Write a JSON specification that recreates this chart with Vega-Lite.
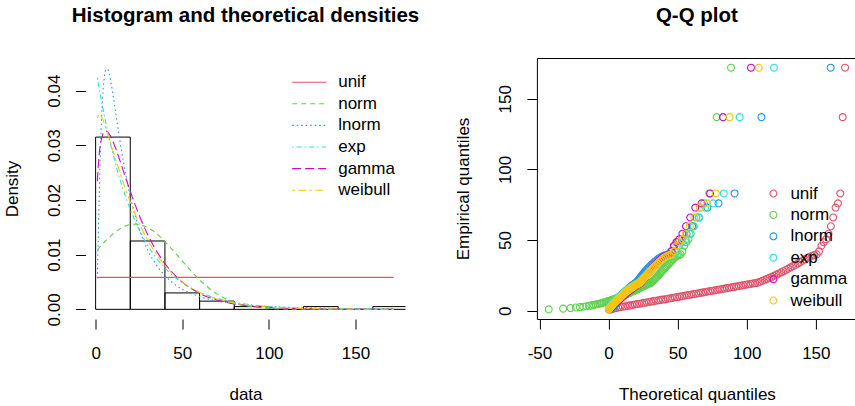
{
"$schema":"https://vega.github.io/schema/vega-lite/v6.json",
"background":"white",
"padding":{"left":2.5,"top":5,"right":0,"bottom":0},
"bounds":"flush",
"spacing":131.4,
"resolve":{"scale":{"x":"independent","y":"independent","color":"independent","strokeDash":"independent"},"legend":{"color":"independent","strokeDash":"independent"}},
"config":{
 "font":"Liberation Sans",
 "axis":{"labelFont":"Liberation Sans","titleFont":"Liberation Sans","labelColor":"black","titleColor":"black","tickColor":"black","tickWidth":1,"tickSize":10,"labelFontSize":17,"titleFontSize":17,"titleFontWeight":"normal","grid":false,"domain":false,"labelFlush":false,"labelOverlap":false},
 "axisX":{"labelPadding":16,"titlePadding":25},
 "axisY":{"labelAngle":-90,"labelAlign":"center","labelBaseline":"alphabetic","labelPadding":16,"titlePadding":24},
 "title":{"font":"Liberation Sans","fontSize":20.5,"fontWeight":"bold","color":"black","anchor":"middle","frame":"group","baseline":"alphabetic","offset":31.8}
},
"hconcat":[
{
 "width":320,"height":261,
 "view":{"stroke":null},
 "title":{"text":"Histogram and theoretical densities"},
 "layer":[
  {
   "data":{"values":[
    {"lo":0,"hi":20,"den":0.0315},{"lo":20,"hi":40,"den":0.0125},{"lo":40,"hi":60,"den":0.003},{"lo":60,"hi":80,"den":0.0015},{"lo":80,"hi":100,"den":0.0005},{"lo":100,"hi":120,"den":0},{"lo":120,"hi":140,"den":0.0005},{"lo":140,"hi":160,"den":0},{"lo":160,"hi":180,"den":0.0005}]},
   "mark":{"type":"bar","fillOpacity":0,"stroke":"black","strokeWidth":1,"clip":true},
   "encoding":{
    "x":{"field":"lo","type":"quantitative","scale":{"domain":[-5.84,178.84],"nice":false,"zero":false},"axis":{"values":[0,50,100,150],"title":"data"}},
    "x2":{"field":"hi"},
    "y":{"field":"den","type":"quantitative","scale":{"domain":[-0.001768,0.045968],"nice":false,"zero":false},"axis":{"values":[0,0.01,0.02,0.03,0.04],"format":".2f","title":"Density"}},
    "y2":{"datum":0}
   }
  },
  {
   "mark":{"type":"rule","color":"black","strokeWidth":1},
   "encoding":{"x":{"datum":0,"type":"quantitative"},"x2":{"datum":150},"y":{"datum":-0.001768,"type":"quantitative"}}
  },
  {
   "mark":{"type":"rule","color":"black","strokeWidth":1},
   "encoding":{"x":{"datum":-5.84,"type":"quantitative"},"y":{"datum":0,"type":"quantitative"},"y2":{"datum":0.04}}
  },
  {
   "data":{"values":[
{"d":"unif","x":1,"y":0.005848},{"d":"unif","x":172,"y":0.005848},
{"d":"norm","x":1,"y":0.010881},{"d":"norm","x":2,"y":0.011238},{"d":"norm","x":3,"y":0.01159},{"d":"norm","x":4,"y":0.011935},{"d":"norm","x":5,"y":0.01227},{"d":"norm","x":6,"y":0.012597},{"d":"norm","x":7,"y":0.012912},{"d":"norm","x":8,"y":0.013215},{"d":"norm","x":10,"y":0.01378},{"d":"norm","x":12,"y":0.014281},{"d":"norm","x":14,"y":0.01471},{"d":"norm","x":16,"y":0.015059},{"d":"norm","x":18,"y":0.015324},{"d":"norm","x":20,"y":0.015498},{"d":"norm","x":23,"y":0.015583},{"d":"norm","x":26,"y":0.015455},{"d":"norm","x":30,"y":0.014963},{"d":"norm","x":35,"y":0.013885},{"d":"norm","x":40,"y":0.012403},{"d":"norm","x":45,"y":0.010664},{"d":"norm","x":50,"y":0.008825},{"d":"norm","x":60,"y":0.005391},{"d":"norm","x":70,"y":0.002827},{"d":"norm","x":80,"y":0.001273},{"d":"norm","x":90,"y":0.000492},{"d":"norm","x":100,"y":0.000163},{"d":"norm","x":120,"y":0.0000114},{"d":"norm","x":140,"y":0.0000004},{"d":"norm","x":172,"y":0},
{"d":"lnorm","x":1,"y":0.005662},{"d":"lnorm","x":2,"y":0.019611},{"d":"lnorm","x":3,"y":0.031172},{"d":"lnorm","x":4,"y":0.038505},{"d":"lnorm","x":5,"y":0.042404},{"d":"lnorm","x":6,"y":0.04392},{"d":"lnorm","x":7,"y":0.04388},{"d":"lnorm","x":8,"y":0.042858},{"d":"lnorm","x":10,"y":0.039313},{"d":"lnorm","x":12,"y":0.03507},{"d":"lnorm","x":14,"y":0.030882},{"d":"lnorm","x":16,"y":0.02704},{"d":"lnorm","x":18,"y":0.023632},{"d":"lnorm","x":20,"y":0.020661},{"d":"lnorm","x":23,"y":0.016941},{"d":"lnorm","x":26,"y":0.013966},{"d":"lnorm","x":30,"y":0.0109},{"d":"lnorm","x":35,"y":0.008123},{"d":"lnorm","x":40,"y":0.006155},{"d":"lnorm","x":45,"y":0.004735},{"d":"lnorm","x":50,"y":0.003694},{"d":"lnorm","x":60,"y":0.00233},{"d":"lnorm","x":70,"y":0.00153},{"d":"lnorm","x":80,"y":0.00104},{"d":"lnorm","x":90,"y":0.000726},{"d":"lnorm","x":100,"y":0.00052},{"d":"lnorm","x":120,"y":0.000282},{"d":"lnorm","x":140,"y":0.000163},{"d":"lnorm","x":172,"y":0.0000754},
{"d":"exp","x":1,"y":0.042333},{"d":"exp","x":2,"y":0.0405},{"d":"exp","x":3,"y":0.038747},{"d":"exp","x":4,"y":0.03707},{"d":"exp","x":5,"y":0.035466},{"d":"exp","x":6,"y":0.033931},{"d":"exp","x":7,"y":0.032462},{"d":"exp","x":8,"y":0.031057},{"d":"exp","x":10,"y":0.028427},{"d":"exp","x":12,"y":0.026019},{"d":"exp","x":14,"y":0.023815},{"d":"exp","x":16,"y":0.021798},{"d":"exp","x":18,"y":0.019952},{"d":"exp","x":20,"y":0.018262},{"d":"exp","x":23,"y":0.015993},{"d":"exp","x":26,"y":0.014005},{"d":"exp","x":30,"y":0.011732},{"d":"exp","x":35,"y":0.009405},{"d":"exp","x":40,"y":0.007538},{"d":"exp","x":45,"y":0.006042},{"d":"exp","x":50,"y":0.004842},{"d":"exp","x":60,"y":0.003111},{"d":"exp","x":70,"y":0.001999},{"d":"exp","x":80,"y":0.001284},{"d":"exp","x":90,"y":0.000825},{"d":"exp","x":100,"y":0.00053},{"d":"exp","x":120,"y":0.000219},{"d":"exp","x":140,"y":0.0000904},{"d":"exp","x":172,"y":0.0000219},
{"d":"gamma","x":1,"y":0.023444},{"d":"gamma","x":2,"y":0.028155},{"d":"gamma","x":3,"y":0.030572},{"d":"gamma","x":4,"y":0.031857},{"d":"gamma","x":5,"y":0.032455},{"d":"gamma","x":6,"y":0.032594},{"d":"gamma","x":7,"y":0.032413},{"d":"gamma","x":8,"y":0.032002},{"d":"gamma","x":10,"y":0.030718},{"d":"gamma","x":12,"y":0.029066},{"d":"gamma","x":14,"y":0.027234},{"d":"gamma","x":16,"y":0.025335},{"d":"gamma","x":18,"y":0.023437},{"d":"gamma","x":20,"y":0.021588},{"d":"gamma","x":23,"y":0.018965},{"d":"gamma","x":26,"y":0.016559},{"d":"gamma","x":30,"y":0.013719},{"d":"gamma","x":35,"y":0.010753},{"d":"gamma","x":40,"y":0.008367},{"d":"gamma","x":45,"y":0.006475},{"d":"gamma","x":50,"y":0.004989},{"d":"gamma","x":60,"y":0.002932},{"d":"gamma","x":70,"y":0.001706},{"d":"gamma","x":80,"y":0.000986},{"d":"gamma","x":90,"y":0.000567},{"d":"gamma","x":100,"y":0.000324},{"d":"gamma","x":120,"y":0.000105},{"d":"gamma","x":140,"y":0.0000337},{"d":"gamma","x":172,"y":0.0000054},
{"d":"weibull","x":1,"y":0.035006},{"d":"weibull","x":2,"y":0.035646},{"d":"weibull","x":3,"y":0.035413},{"d":"weibull","x":4,"y":0.034818},{"d":"weibull","x":5,"y":0.034027},{"d":"weibull","x":6,"y":0.033124},{"d":"weibull","x":7,"y":0.032157},{"d":"weibull","x":8,"y":0.031147},{"d":"weibull","x":10,"y":0.029087},{"d":"weibull","x":12,"y":0.027037},{"d":"weibull","x":14,"y":0.025044},{"d":"weibull","x":16,"y":0.023137},{"d":"weibull","x":18,"y":0.021327},{"d":"weibull","x":20,"y":0.019625},{"d":"weibull","x":23,"y":0.017273},{"d":"weibull","x":26,"y":0.01516},{"d":"weibull","x":30,"y":0.012695},{"d":"weibull","x":35,"y":0.01012},{"d":"weibull","x":40,"y":0.008032},{"d":"weibull","x":45,"y":0.006349},{"d":"weibull","x":50,"y":0.005004},{"d":"weibull","x":60,"y":0.003083},{"d":"weibull","x":70,"y":0.001883},{"d":"weibull","x":80,"y":0.001142},{"d":"weibull","x":90,"y":0.000687},{"d":"weibull","x":100,"y":0.000412},{"d":"weibull","x":120,"y":0.000146},{"d":"weibull","x":140,"y":0.0000506},{"d":"weibull","x":172,"y":0.0000091}
   ]},
   "mark":{"type":"line","strokeWidth":1.1,"interpolate":"monotone"},
   "encoding":{
    "x":{"field":"x","type":"quantitative"},
    "y":{"field":"y","type":"quantitative"},
    "color":{"field":"d","type":"nominal","scale":{"domain":["unif","norm","lnorm","exp","gamma","weibull"],"range":["#DF536B","#61D04F","#2297E6","#28E2E5","#CD0BBC","#F5C710"]},
     "legend":{"orient":"none","legendX":212.7,"legendY":13.2,"title":null,"symbolType":"M-1.7,0H1.7","symbolSize":400,"symbolStrokeWidth":1.1,"labelFontSize":17,"labelFont":"Liberation Sans","labelColor":"black","labelOffset":18,"rowPadding":2.6,"padding":0}},
    "strokeDash":{"field":"d","type":"nominal","scale":{"domain":["unif","norm","lnorm","exp","gamma","weibull"],"range":[[1,0],[5,4],[1.5,3],[1.5,3,5,3],[9,4],[3,3,8,3]]},
     "legend":{"orient":"none","legendX":212.7,"legendY":13.2,"title":null,"symbolType":"M-1.7,0H1.7","symbolSize":400,"symbolStrokeWidth":1.1,"labelFontSize":17,"labelFont":"Liberation Sans","labelColor":"black","labelOffset":18,"rowPadding":2.6,"padding":0}}
   }
  }
 ]
},
{
 "width":320,"height":261,
 "view":{"stroke":"black","strokeWidth":1},
 "title":{"text":"Q-Q plot"},
 "layer":[
  {
   "data":{"values":[
{"d":"unif","t":1.86,"e":1},{"d":"unif","t":3.57,"e":1.5},{"d":"unif","t":5.28,"e":1.9},{"d":"unif","t":6.99,"e":2.3},{"d":"unif","t":8.7,"e":2.6},{"d":"unif","t":10.41,"e":2.9},{"d":"unif","t":12.12,"e":3.2},{"d":"unif","t":13.83,"e":3.5},{"d":"unif","t":15.54,"e":3.8},{"d":"unif","t":17.25,"e":4.1},
{"d":"unif","t":18.96,"e":4.4},{"d":"unif","t":20.67,"e":4.7},{"d":"unif","t":22.38,"e":5},{"d":"unif","t":24.09,"e":5.3},{"d":"unif","t":25.8,"e":5.6},{"d":"unif","t":27.51,"e":5.9},{"d":"unif","t":29.22,"e":6.2},{"d":"unif","t":30.93,"e":6.5},{"d":"unif","t":32.64,"e":6.8},{"d":"unif","t":34.35,"e":7.1},
{"d":"unif","t":36.06,"e":7.4},{"d":"unif","t":37.77,"e":7.7},{"d":"unif","t":39.48,"e":7.9},{"d":"unif","t":41.19,"e":8.2},{"d":"unif","t":42.9,"e":8.5},{"d":"unif","t":44.61,"e":8.8},{"d":"unif","t":46.32,"e":9.1},{"d":"unif","t":48.03,"e":9.4},{"d":"unif","t":49.74,"e":9.7},{"d":"unif","t":51.45,"e":10},
{"d":"unif","t":53.16,"e":10.3},{"d":"unif","t":54.87,"e":10.6},{"d":"unif","t":56.58,"e":10.9},{"d":"unif","t":58.29,"e":11.2},{"d":"unif","t":60,"e":11.5},{"d":"unif","t":61.71,"e":11.8},{"d":"unif","t":63.42,"e":12.1},{"d":"unif","t":65.13,"e":12.4},{"d":"unif","t":66.84,"e":12.7},{"d":"unif","t":68.55,"e":13},
{"d":"unif","t":70.26,"e":13.3},{"d":"unif","t":71.97,"e":13.6},{"d":"unif","t":73.68,"e":13.9},{"d":"unif","t":75.39,"e":14.2},{"d":"unif","t":77.1,"e":14.5},{"d":"unif","t":78.81,"e":14.8},{"d":"unif","t":80.52,"e":15.1},{"d":"unif","t":82.23,"e":15.4},{"d":"unif","t":83.94,"e":15.7},{"d":"unif","t":85.65,"e":16},
{"d":"unif","t":87.36,"e":16.3},{"d":"unif","t":89.07,"e":16.6},{"d":"unif","t":90.78,"e":16.9},{"d":"unif","t":92.49,"e":17.2},{"d":"unif","t":94.2,"e":17.5},{"d":"unif","t":95.91,"e":17.8},{"d":"unif","t":97.62,"e":18.1},{"d":"unif","t":99.33,"e":18.4},{"d":"unif","t":101.04,"e":18.7},{"d":"unif","t":102.75,"e":19},
{"d":"unif","t":104.46,"e":19.3},{"d":"unif","t":106.17,"e":19.6},{"d":"unif","t":107.88,"e":19.9},{"d":"unif","t":109.59,"e":20.5},{"d":"unif","t":111.3,"e":21.2},{"d":"unif","t":113.01,"e":21.9},{"d":"unif","t":114.72,"e":22.6},{"d":"unif","t":116.43,"e":23.3},{"d":"unif","t":118.14,"e":24},{"d":"unif","t":119.85,"e":24.8},
{"d":"unif","t":121.56,"e":25.6},{"d":"unif","t":123.27,"e":26.4},{"d":"unif","t":124.98,"e":27.2},{"d":"unif","t":126.69,"e":28},{"d":"unif","t":128.4,"e":28.9},{"d":"unif","t":130.11,"e":29.8},{"d":"unif","t":131.82,"e":30.7},{"d":"unif","t":133.53,"e":31.6},{"d":"unif","t":135.24,"e":32.5},{"d":"unif","t":136.95,"e":33.4},
{"d":"unif","t":138.66,"e":34.4},{"d":"unif","t":140.37,"e":35.4},{"d":"unif","t":142.08,"e":36.4},{"d":"unif","t":143.79,"e":37.4},{"d":"unif","t":145.5,"e":38.2},{"d":"unif","t":147.21,"e":38.9},{"d":"unif","t":148.92,"e":39.4},{"d":"unif","t":150.63,"e":39.9},{"d":"unif","t":152.34,"e":42},{"d":"unif","t":154.05,"e":46},
{"d":"unif","t":155.76,"e":48.5},{"d":"unif","t":157.47,"e":50.5},{"d":"unif","t":159.18,"e":54.5},{"d":"unif","t":160.89,"e":59.8},{"d":"unif","t":162.6,"e":66},{"d":"unif","t":164.31,"e":73},{"d":"unif","t":166.02,"e":76},{"d":"unif","t":167.73,"e":83},{"d":"unif","t":169.44,"e":137},{"d":"unif","t":171.15,"e":172},
{"d":"norm","t":-43.24,"e":1},{"d":"norm","t":-32.85,"e":1.5},{"d":"norm","t":-27.48,"e":1.9},{"d":"norm","t":-23.68,"e":2.3},{"d":"norm","t":-20.7,"e":2.6},{"d":"norm","t":-18.21,"e":2.9},{"d":"norm","t":-16.06,"e":3.2},{"d":"norm","t":-14.15,"e":3.5},{"d":"norm","t":-12.43,"e":3.8},{"d":"norm","t":-10.85,"e":4.1},
{"d":"norm","t":-9.39,"e":4.4},{"d":"norm","t":-8.03,"e":4.7},{"d":"norm","t":-6.75,"e":5},{"d":"norm","t":-5.54,"e":5.3},{"d":"norm","t":-4.39,"e":5.6},{"d":"norm","t":-3.29,"e":5.9},{"d":"norm","t":-2.24,"e":6.2},{"d":"norm","t":-1.23,"e":6.5},{"d":"norm","t":-0.25,"e":6.8},{"d":"norm","t":0.69,"e":7.1},
{"d":"norm","t":1.61,"e":7.4},{"d":"norm","t":2.5,"e":7.7},{"d":"norm","t":3.36,"e":7.9},{"d":"norm","t":4.2,"e":8.2},{"d":"norm","t":5.03,"e":8.5},{"d":"norm","t":5.83,"e":8.8},{"d":"norm","t":6.62,"e":9.1},{"d":"norm","t":7.4,"e":9.4},{"d":"norm","t":8.16,"e":9.7},{"d":"norm","t":8.91,"e":10},
{"d":"norm","t":9.64,"e":10.3},{"d":"norm","t":10.37,"e":10.6},{"d":"norm","t":11.08,"e":10.9},{"d":"norm","t":11.79,"e":11.2},{"d":"norm","t":12.49,"e":11.5},{"d":"norm","t":13.18,"e":11.8},{"d":"norm","t":13.87,"e":12.1},{"d":"norm","t":14.54,"e":12.4},{"d":"norm","t":15.21,"e":12.7},{"d":"norm","t":15.88,"e":13},
{"d":"norm","t":16.55,"e":13.3},{"d":"norm","t":17.2,"e":13.6},{"d":"norm","t":17.86,"e":13.9},{"d":"norm","t":18.51,"e":14.2},{"d":"norm","t":19.16,"e":14.5},{"d":"norm","t":19.81,"e":14.8},{"d":"norm","t":20.45,"e":15.1},{"d":"norm","t":21.09,"e":15.4},{"d":"norm","t":21.74,"e":15.7},{"d":"norm","t":22.38,"e":16},
{"d":"norm","t":23.02,"e":16.3},{"d":"norm","t":23.66,"e":16.6},{"d":"norm","t":24.31,"e":16.9},{"d":"norm","t":24.95,"e":17.2},{"d":"norm","t":25.59,"e":17.5},{"d":"norm","t":26.24,"e":17.8},{"d":"norm","t":26.89,"e":18.1},{"d":"norm","t":27.54,"e":18.4},{"d":"norm","t":28.2,"e":18.7},{"d":"norm","t":28.85,"e":19},
{"d":"norm","t":29.52,"e":19.3},{"d":"norm","t":30.19,"e":19.6},{"d":"norm","t":30.86,"e":19.9},{"d":"norm","t":31.53,"e":20.5},{"d":"norm","t":32.22,"e":21.2},{"d":"norm","t":32.91,"e":21.9},{"d":"norm","t":33.61,"e":22.6},{"d":"norm","t":34.32,"e":23.3},{"d":"norm","t":35.03,"e":24},{"d":"norm","t":35.76,"e":24.8},
{"d":"norm","t":36.49,"e":25.6},{"d":"norm","t":37.24,"e":26.4},{"d":"norm","t":38,"e":27.2},{"d":"norm","t":38.78,"e":28},{"d":"norm","t":39.57,"e":28.9},{"d":"norm","t":40.37,"e":29.8},{"d":"norm","t":41.2,"e":30.7},{"d":"norm","t":42.04,"e":31.6},{"d":"norm","t":42.9,"e":32.5},{"d":"norm","t":43.79,"e":33.4},
{"d":"norm","t":44.71,"e":34.4},{"d":"norm","t":45.65,"e":35.4},{"d":"norm","t":46.63,"e":36.4},{"d":"norm","t":47.64,"e":37.4},{"d":"norm","t":48.69,"e":38.2},{"d":"norm","t":49.79,"e":38.9},{"d":"norm","t":50.94,"e":39.4},{"d":"norm","t":52.15,"e":39.9},{"d":"norm","t":53.43,"e":42},{"d":"norm","t":54.79,"e":46},
{"d":"norm","t":56.25,"e":48.5},{"d":"norm","t":57.83,"e":50.5},{"d":"norm","t":59.55,"e":54.5},{"d":"norm","t":61.46,"e":59.8},{"d":"norm","t":63.61,"e":66},{"d":"norm","t":66.1,"e":73},{"d":"norm","t":69.08,"e":76},{"d":"norm","t":72.88,"e":83},{"d":"norm","t":78.25,"e":137},{"d":"norm","t":88.64,"e":172},
{"d":"lnorm","t":1.4,"e":1},{"d":"lnorm","t":2.04,"e":1.5},{"d":"lnorm","t":2.47,"e":1.9},{"d":"lnorm","t":2.83,"e":2.3},{"d":"lnorm","t":3.16,"e":2.6},{"d":"lnorm","t":3.45,"e":2.9},{"d":"lnorm","t":3.73,"e":3.2},{"d":"lnorm","t":4,"e":3.5},{"d":"lnorm","t":4.26,"e":3.8},{"d":"lnorm","t":4.5,"e":4.1},
{"d":"lnorm","t":4.74,"e":4.4},{"d":"lnorm","t":4.98,"e":4.7},{"d":"lnorm","t":5.21,"e":5},{"d":"lnorm","t":5.45,"e":5.3},{"d":"lnorm","t":5.68,"e":5.6},{"d":"lnorm","t":5.9,"e":5.9},{"d":"lnorm","t":6.13,"e":6.2},{"d":"lnorm","t":6.36,"e":6.5},{"d":"lnorm","t":6.58,"e":6.8},{"d":"lnorm","t":6.81,"e":7.1},
{"d":"lnorm","t":7.05,"e":7.4},{"d":"lnorm","t":7.28,"e":7.7},{"d":"lnorm","t":7.5,"e":7.9},{"d":"lnorm","t":7.73,"e":8.2},{"d":"lnorm","t":7.97,"e":8.5},{"d":"lnorm","t":8.2,"e":8.8},{"d":"lnorm","t":8.43,"e":9.1},{"d":"lnorm","t":8.68,"e":9.4},{"d":"lnorm","t":8.91,"e":9.7},{"d":"lnorm","t":9.16,"e":10},
{"d":"lnorm","t":9.4,"e":10.3},{"d":"lnorm","t":9.65,"e":10.6},{"d":"lnorm","t":9.9,"e":10.9},{"d":"lnorm","t":10.16,"e":11.2},{"d":"lnorm","t":10.42,"e":11.5},{"d":"lnorm","t":10.68,"e":11.8},{"d":"lnorm","t":10.94,"e":12.1},{"d":"lnorm","t":11.21,"e":12.4},{"d":"lnorm","t":11.49,"e":12.7},{"d":"lnorm","t":11.77,"e":13},
{"d":"lnorm","t":12.05,"e":13.3},{"d":"lnorm","t":12.34,"e":13.6},{"d":"lnorm","t":12.63,"e":13.9},{"d":"lnorm","t":12.93,"e":14.2},{"d":"lnorm","t":13.23,"e":14.5},{"d":"lnorm","t":13.54,"e":14.8},{"d":"lnorm","t":13.86,"e":15.1},{"d":"lnorm","t":14.19,"e":15.4},{"d":"lnorm","t":14.52,"e":15.7},{"d":"lnorm","t":14.86,"e":16},
{"d":"lnorm","t":15.2,"e":16.3},{"d":"lnorm","t":15.56,"e":16.6},{"d":"lnorm","t":15.92,"e":16.9},{"d":"lnorm","t":16.29,"e":17.2},{"d":"lnorm","t":16.67,"e":17.5},{"d":"lnorm","t":17.07,"e":17.8},{"d":"lnorm","t":17.48,"e":18.1},{"d":"lnorm","t":17.89,"e":18.4},{"d":"lnorm","t":18.31,"e":18.7},{"d":"lnorm","t":18.76,"e":19},
{"d":"lnorm","t":19.2,"e":19.3},{"d":"lnorm","t":19.67,"e":19.6},{"d":"lnorm","t":20.15,"e":19.9},{"d":"lnorm","t":20.65,"e":20.5},{"d":"lnorm","t":21.16,"e":21.2},{"d":"lnorm","t":21.69,"e":21.9},{"d":"lnorm","t":22.25,"e":22.6},{"d":"lnorm","t":22.82,"e":23.3},{"d":"lnorm","t":23.41,"e":24},{"d":"lnorm","t":24.03,"e":24.8},
{"d":"lnorm","t":24.67,"e":25.6},{"d":"lnorm","t":25.35,"e":26.4},{"d":"lnorm","t":26.05,"e":27.2},{"d":"lnorm","t":26.78,"e":28},{"d":"lnorm","t":27.56,"e":28.9},{"d":"lnorm","t":28.37,"e":29.8},{"d":"lnorm","t":29.21,"e":30.7},{"d":"lnorm","t":30.11,"e":31.6},{"d":"lnorm","t":31.07,"e":32.5},{"d":"lnorm","t":32.07,"e":33.4},
{"d":"lnorm","t":33.14,"e":34.4},{"d":"lnorm","t":34.29,"e":35.4},{"d":"lnorm","t":35.51,"e":36.4},{"d":"lnorm","t":36.83,"e":37.4},{"d":"lnorm","t":38.24,"e":38.2},{"d":"lnorm","t":39.79,"e":38.9},{"d":"lnorm","t":41.47,"e":39.4},{"d":"lnorm","t":43.3,"e":39.9},{"d":"lnorm","t":45.34,"e":42},{"d":"lnorm","t":47.62,"e":46},
{"d":"lnorm","t":50.19,"e":48.5},{"d":"lnorm","t":53.11,"e":50.5},{"d":"lnorm","t":56.5,"e":54.5},{"d":"lnorm","t":60.52,"e":59.8},{"d":"lnorm","t":65.39,"e":66},{"d":"lnorm","t":71.51,"e":73},{"d":"lnorm","t":79.6,"e":76},{"d":"lnorm","t":91.22,"e":83},{"d":"lnorm","t":110.67,"e":137},{"d":"lnorm","t":160.73,"e":172},
{"d":"exp","t":0.11,"e":1},{"d":"exp","t":0.34,"e":1.5},{"d":"exp","t":0.57,"e":1.9},{"d":"exp","t":0.81,"e":2.3},{"d":"exp","t":1.04,"e":2.6},{"d":"exp","t":1.28,"e":2.9},{"d":"exp","t":1.52,"e":3.2},{"d":"exp","t":1.76,"e":3.5},{"d":"exp","t":2.01,"e":3.8},{"d":"exp","t":2.26,"e":4.1},
{"d":"exp","t":2.51,"e":4.4},{"d":"exp","t":2.76,"e":4.7},{"d":"exp","t":3.02,"e":5},{"d":"exp","t":3.28,"e":5.3},{"d":"exp","t":3.54,"e":5.6},{"d":"exp","t":3.81,"e":5.9},{"d":"exp","t":4.08,"e":6.2},{"d":"exp","t":4.35,"e":6.5},{"d":"exp","t":4.62,"e":6.8},{"d":"exp","t":4.9,"e":7.1},
{"d":"exp","t":5.18,"e":7.4},{"d":"exp","t":5.47,"e":7.7},{"d":"exp","t":5.76,"e":7.9},{"d":"exp","t":6.05,"e":8.2},{"d":"exp","t":6.35,"e":8.5},{"d":"exp","t":6.65,"e":8.8},{"d":"exp","t":6.96,"e":9.1},{"d":"exp","t":7.27,"e":9.4},{"d":"exp","t":7.58,"e":9.7},{"d":"exp","t":7.9,"e":10},
{"d":"exp","t":8.22,"e":10.3},{"d":"exp","t":8.55,"e":10.6},{"d":"exp","t":8.88,"e":10.9},{"d":"exp","t":9.22,"e":11.2},{"d":"exp","t":9.56,"e":11.5},{"d":"exp","t":9.91,"e":11.8},{"d":"exp","t":10.26,"e":12.1},{"d":"exp","t":10.62,"e":12.4},{"d":"exp","t":10.99,"e":12.7},{"d":"exp","t":11.36,"e":13},
{"d":"exp","t":11.73,"e":13.3},{"d":"exp","t":12.12,"e":13.6},{"d":"exp","t":12.51,"e":13.9},{"d":"exp","t":12.9,"e":14.2},{"d":"exp","t":13.31,"e":14.5},{"d":"exp","t":13.72,"e":14.8},{"d":"exp","t":14.14,"e":15.1},{"d":"exp","t":14.56,"e":15.4},{"d":"exp","t":15,"e":15.7},{"d":"exp","t":15.44,"e":16},
{"d":"exp","t":15.89,"e":16.3},{"d":"exp","t":16.35,"e":16.6},{"d":"exp","t":16.82,"e":16.9},{"d":"exp","t":17.31,"e":17.2},{"d":"exp","t":17.8,"e":17.5},{"d":"exp","t":18.3,"e":17.8},{"d":"exp","t":18.81,"e":18.1},{"d":"exp","t":19.34,"e":18.4},{"d":"exp","t":19.88,"e":18.7},{"d":"exp","t":20.43,"e":19},
{"d":"exp","t":20.99,"e":19.3},{"d":"exp","t":21.57,"e":19.6},{"d":"exp","t":22.17,"e":19.9},{"d":"exp","t":22.78,"e":20.5},{"d":"exp","t":23.41,"e":21.2},{"d":"exp","t":24.05,"e":21.9},{"d":"exp","t":24.72,"e":22.6},{"d":"exp","t":25.4,"e":23.3},{"d":"exp","t":26.11,"e":24},{"d":"exp","t":26.84,"e":24.8},
{"d":"exp","t":27.59,"e":25.6},{"d":"exp","t":28.37,"e":26.4},{"d":"exp","t":29.18,"e":27.2},{"d":"exp","t":30.01,"e":28},{"d":"exp","t":30.88,"e":28.9},{"d":"exp","t":31.79,"e":29.8},{"d":"exp","t":32.73,"e":30.7},{"d":"exp","t":33.71,"e":31.6},{"d":"exp","t":34.74,"e":32.5},{"d":"exp","t":35.82,"e":33.4},
{"d":"exp","t":36.95,"e":34.4},{"d":"exp","t":38.14,"e":35.4},{"d":"exp","t":39.39,"e":36.4},{"d":"exp","t":40.72,"e":37.4},{"d":"exp","t":42.13,"e":38.2},{"d":"exp","t":43.64,"e":38.9},{"d":"exp","t":45.26,"e":39.4},{"d":"exp","t":47,"e":39.9},{"d":"exp","t":48.88,"e":42},{"d":"exp","t":50.94,"e":46},
{"d":"exp","t":53.2,"e":48.5},{"d":"exp","t":55.71,"e":50.5},{"d":"exp","t":58.54,"e":54.5},{"d":"exp","t":61.77,"e":59.8},{"d":"exp","t":65.55,"e":66},{"d":"exp","t":70.08,"e":73},{"d":"exp","t":75.76,"e":76},{"d":"exp","t":83.37,"e":83},{"d":"exp","t":94.91,"e":137},{"d":"exp","t":119.74,"e":172},
{"d":"gamma","t":0.38,"e":1},{"d":"gamma","t":0.86,"e":1.5},{"d":"gamma","t":1.28,"e":1.9},{"d":"gamma","t":1.65,"e":2.3},{"d":"gamma","t":2.02,"e":2.6},{"d":"gamma","t":2.38,"e":2.9},{"d":"gamma","t":2.72,"e":3.2},{"d":"gamma","t":3.05,"e":3.5},{"d":"gamma","t":3.38,"e":3.8},{"d":"gamma","t":3.7,"e":4.1},
{"d":"gamma","t":4.01,"e":4.4},{"d":"gamma","t":4.34,"e":4.7},{"d":"gamma","t":4.65,"e":5},{"d":"gamma","t":4.98,"e":5.3},{"d":"gamma","t":5.3,"e":5.6},{"d":"gamma","t":5.62,"e":5.9},{"d":"gamma","t":5.93,"e":6.2},{"d":"gamma","t":6.25,"e":6.5},{"d":"gamma","t":6.56,"e":6.8},{"d":"gamma","t":6.88,"e":7.1},
{"d":"gamma","t":7.2,"e":7.4},{"d":"gamma","t":7.51,"e":7.7},{"d":"gamma","t":7.83,"e":7.9},{"d":"gamma","t":8.14,"e":8.2},{"d":"gamma","t":8.46,"e":8.5},{"d":"gamma","t":8.78,"e":8.8},{"d":"gamma","t":9.1,"e":9.1},{"d":"gamma","t":9.42,"e":9.4},{"d":"gamma","t":9.75,"e":9.7},{"d":"gamma","t":10.08,"e":10},
{"d":"gamma","t":10.41,"e":10.3},{"d":"gamma","t":10.74,"e":10.6},{"d":"gamma","t":11.08,"e":10.9},{"d":"gamma","t":11.42,"e":11.2},{"d":"gamma","t":11.76,"e":11.5},{"d":"gamma","t":12.1,"e":11.8},{"d":"gamma","t":12.45,"e":12.1},{"d":"gamma","t":12.8,"e":12.4},{"d":"gamma","t":13.15,"e":12.7},{"d":"gamma","t":13.51,"e":13},
{"d":"gamma","t":13.87,"e":13.3},{"d":"gamma","t":14.23,"e":13.6},{"d":"gamma","t":14.6,"e":13.9},{"d":"gamma","t":14.97,"e":14.2},{"d":"gamma","t":15.35,"e":14.5},{"d":"gamma","t":15.74,"e":14.8},{"d":"gamma","t":16.12,"e":15.1},{"d":"gamma","t":16.52,"e":15.4},{"d":"gamma","t":16.92,"e":15.7},{"d":"gamma","t":17.32,"e":16},
{"d":"gamma","t":17.74,"e":16.3},{"d":"gamma","t":18.15,"e":16.6},{"d":"gamma","t":18.58,"e":16.9},{"d":"gamma","t":19.01,"e":17.2},{"d":"gamma","t":19.45,"e":17.5},{"d":"gamma","t":19.9,"e":17.8},{"d":"gamma","t":20.36,"e":18.1},{"d":"gamma","t":20.82,"e":18.4},{"d":"gamma","t":21.3,"e":18.7},{"d":"gamma","t":21.79,"e":19},
{"d":"gamma","t":22.28,"e":19.3},{"d":"gamma","t":22.79,"e":19.6},{"d":"gamma","t":23.31,"e":19.9},{"d":"gamma","t":23.84,"e":20.5},{"d":"gamma","t":24.38,"e":21.2},{"d":"gamma","t":24.94,"e":21.9},{"d":"gamma","t":25.51,"e":22.6},{"d":"gamma","t":26.1,"e":23.3},{"d":"gamma","t":26.7,"e":24},{"d":"gamma","t":27.32,"e":24.8},
{"d":"gamma","t":27.96,"e":25.6},{"d":"gamma","t":28.63,"e":26.4},{"d":"gamma","t":29.31,"e":27.2},{"d":"gamma","t":30.02,"e":28},{"d":"gamma","t":30.74,"e":28.9},{"d":"gamma","t":31.5,"e":29.8},{"d":"gamma","t":32.29,"e":30.7},{"d":"gamma","t":33.11,"e":31.6},{"d":"gamma","t":33.97,"e":32.5},{"d":"gamma","t":34.86,"e":33.4},
{"d":"gamma","t":35.8,"e":34.4},{"d":"gamma","t":36.78,"e":35.4},{"d":"gamma","t":37.82,"e":36.4},{"d":"gamma","t":38.91,"e":37.4},{"d":"gamma","t":40.07,"e":38.2},{"d":"gamma","t":41.31,"e":38.9},{"d":"gamma","t":42.63,"e":39.4},{"d":"gamma","t":44.05,"e":39.9},{"d":"gamma","t":45.59,"e":42},{"d":"gamma","t":47.26,"e":46},
{"d":"gamma","t":49.11,"e":48.5},{"d":"gamma","t":51.14,"e":50.5},{"d":"gamma","t":53.43,"e":54.5},{"d":"gamma","t":56.05,"e":59.8},{"d":"gamma","t":59.11,"e":66},{"d":"gamma","t":62.78,"e":73},{"d":"gamma","t":67.37,"e":76},{"d":"gamma","t":73.51,"e":83},{"d":"gamma","t":82.87,"e":137},{"d":"gamma","t":103.11,"e":172},
{"d":"weibull","t":0.17,"e":1},{"d":"weibull","t":0.48,"e":1.5},{"d":"weibull","t":0.77,"e":1.9},{"d":"weibull","t":1.06,"e":2.3},{"d":"weibull","t":1.34,"e":2.6},{"d":"weibull","t":1.62,"e":2.9},{"d":"weibull","t":1.91,"e":3.2},{"d":"weibull","t":2.19,"e":3.5},{"d":"weibull","t":2.47,"e":3.8},{"d":"weibull","t":2.75,"e":4.1},
{"d":"weibull","t":3.03,"e":4.4},{"d":"weibull","t":3.31,"e":4.7},{"d":"weibull","t":3.6,"e":5},{"d":"weibull","t":3.88,"e":5.3},{"d":"weibull","t":4.17,"e":5.6},{"d":"weibull","t":4.46,"e":5.9},{"d":"weibull","t":4.75,"e":6.2},{"d":"weibull","t":5.04,"e":6.5},{"d":"weibull","t":5.34,"e":6.8},{"d":"weibull","t":5.64,"e":7.1},
{"d":"weibull","t":5.94,"e":7.4},{"d":"weibull","t":6.24,"e":7.7},{"d":"weibull","t":6.54,"e":7.9},{"d":"weibull","t":6.85,"e":8.2},{"d":"weibull","t":7.16,"e":8.5},{"d":"weibull","t":7.48,"e":8.8},{"d":"weibull","t":7.79,"e":9.1},{"d":"weibull","t":8.11,"e":9.4},{"d":"weibull","t":8.44,"e":9.7},{"d":"weibull","t":8.77,"e":10},
{"d":"weibull","t":9.1,"e":10.3},{"d":"weibull","t":9.43,"e":10.6},{"d":"weibull","t":9.77,"e":10.9},{"d":"weibull","t":10.11,"e":11.2},{"d":"weibull","t":10.46,"e":11.5},{"d":"weibull","t":10.81,"e":11.8},{"d":"weibull","t":11.17,"e":12.1},{"d":"weibull","t":11.53,"e":12.4},{"d":"weibull","t":11.9,"e":12.7},{"d":"weibull","t":12.27,"e":13},
{"d":"weibull","t":12.65,"e":13.3},{"d":"weibull","t":13.03,"e":13.6},{"d":"weibull","t":13.41,"e":13.9},{"d":"weibull","t":13.81,"e":14.2},{"d":"weibull","t":14.21,"e":14.5},{"d":"weibull","t":14.61,"e":14.8},{"d":"weibull","t":15.03,"e":15.1},{"d":"weibull","t":15.44,"e":15.4},{"d":"weibull","t":15.87,"e":15.7},{"d":"weibull","t":16.3,"e":16},
{"d":"weibull","t":16.75,"e":16.3},{"d":"weibull","t":17.2,"e":16.6},{"d":"weibull","t":17.65,"e":16.9},{"d":"weibull","t":18.12,"e":17.2},{"d":"weibull","t":18.59,"e":17.5},{"d":"weibull","t":19.08,"e":17.8},{"d":"weibull","t":19.58,"e":18.1},{"d":"weibull","t":20.08,"e":18.4},{"d":"weibull","t":20.6,"e":18.7},{"d":"weibull","t":21.13,"e":19},
{"d":"weibull","t":21.67,"e":19.3},{"d":"weibull","t":22.22,"e":19.6},{"d":"weibull","t":22.79,"e":19.9},{"d":"weibull","t":23.37,"e":20.5},{"d":"weibull","t":23.96,"e":21.2},{"d":"weibull","t":24.58,"e":21.9},{"d":"weibull","t":25.21,"e":22.6},{"d":"weibull","t":25.85,"e":23.3},{"d":"weibull","t":26.52,"e":24},{"d":"weibull","t":27.2,"e":24.8},
{"d":"weibull","t":27.91,"e":25.6},{"d":"weibull","t":28.64,"e":26.4},{"d":"weibull","t":29.39,"e":27.2},{"d":"weibull","t":30.17,"e":28},{"d":"weibull","t":30.98,"e":28.9},{"d":"weibull","t":31.82,"e":29.8},{"d":"weibull","t":32.69,"e":30.7},{"d":"weibull","t":33.6,"e":31.6},{"d":"weibull","t":34.54,"e":32.5},{"d":"weibull","t":35.53,"e":33.4},
{"d":"weibull","t":36.57,"e":34.4},{"d":"weibull","t":37.66,"e":35.4},{"d":"weibull","t":38.81,"e":36.4},{"d":"weibull","t":40.02,"e":37.4},{"d":"weibull","t":41.3,"e":38.2},{"d":"weibull","t":42.66,"e":38.9},{"d":"weibull","t":44.13,"e":39.4},{"d":"weibull","t":45.69,"e":39.9},{"d":"weibull","t":47.39,"e":42},{"d":"weibull","t":49.23,"e":46},
{"d":"weibull","t":51.26,"e":48.5},{"d":"weibull","t":53.49,"e":50.5},{"d":"weibull","t":56.01,"e":54.5},{"d":"weibull","t":58.86,"e":59.8},{"d":"weibull","t":62.18,"e":66},{"d":"weibull","t":66.15,"e":73},{"d":"weibull","t":71.11,"e":76},{"d":"weibull","t":77.7,"e":83},{"d":"weibull","t":87.61,"e":137},{"d":"weibull","t":108.64,"e":172}
   ]},
   "mark":{"type":"point","shape":"circle","filled":false,"size":48,"strokeWidth":1.1,"opacity":1},
   "encoding":{
    "x":{"field":"t","type":"quantitative","scale":{"domain":[-51.82,179.72],"nice":false,"zero":false},"axis":{"values":[-50,0,50,100,150],"labelExpr":"'' + datum.value","title":"Theoretical quantiles"}},
    "y":{"field":"e","type":"quantitative","scale":{"domain":[-5.84,178.84],"nice":false,"zero":false},"axis":{"values":[0,50,100,150],"title":"Empirical quantiles"}},
    "color":{"field":"d","type":"nominal","scale":{"domain":["unif","norm","lnorm","exp","gamma","weibull"],"range":["#DF536B","#61D04F","#2297E6","#28E2E5","#CD0BBC","#F5C710"]},
     "legend":{"orient":"none","legendX":228,"legendY":127,"title":null,"symbolType":"circle","symbolSize":48,"symbolStrokeWidth":1.1,"labelFontSize":17,"labelFont":"Liberation Sans","labelColor":"black","labelOffset":8.5,"rowPadding":3.4,"padding":0}}
   }
  },
  {
   "mark":{"type":"rule","color":"black","strokeWidth":1,"clip":true},
   "encoding":{"x":{"datum":-60,"type":"quantitative"},"y":{"datum":-60,"type":"quantitative"},"x2":{"datum":200},"y2":{"datum":200}}
  }
 ]
}
]
}
